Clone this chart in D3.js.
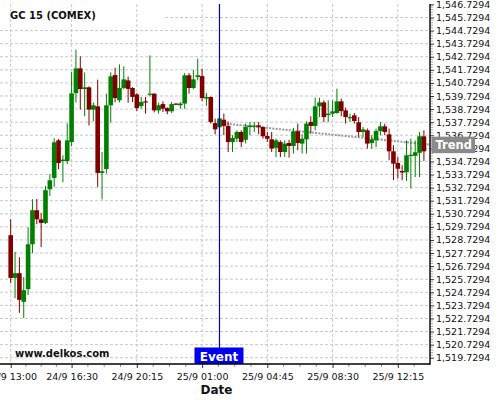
<!DOCTYPE html>
<html><head><meta charset="utf-8">
<script src="https://cdn.jsdelivr.net/npm/d3@7"></script>
<style>body{margin:0;background:#fff}svg{display:block}text{font-family:"DejaVu Sans",sans-serif}</style>
</head><body><svg id="c" width="500" height="400"></svg>
<script>
const openV = [
1529.09,1525.83,1526.19,1524.00,1524.97,1528.40,1531.00,1530.31,1530.03,1532.60,
1533.47,1536.34,1534.76,1534.76,1536.21,1539.95,1541.84,1540.26,1540.39,1538.69,
1538.94,1533.85,1534.15,1539.02,1541.33,1539.40,1540.34,1540.92,1540.34,1539.85,
1538.96,1539.32,1539.83,1539.91,1538.63,1539.11,1538.81,1538.56,1539.15,1539.02,
1539.15,1541.31,1540.34,1541.18,1541.25,1539.53,1539.65,1537.66,1537.34,1537.92,
1537.44,1536.21,1536.47,1536.98,1536.38,1537.36,1537.39,1537.49,1537.36,1536.67,
1536.42,1535.77,1536.21,1535.45,1536.14,1535.91,1537.03,1536.09,1536.42,1537.74,
1537.44,1538.94,1539.24,1538.27,1538.38,1538.43,1539.32,1538.63,1538.05,1538.25,
1537.72,1536.98,1537.11,1536.14,1536.34,1537.05,1537.41,1536.80,1535.50,1534.61,
1534.00,1533.90,1535.16,1535.16,1535.39,1536.65];
const highV = [
1530.31,1527.82,1527.41,1525.89,1529.70,1531.84,1531.86,1530.77,1532.85,1533.75,
1536.50,1536.44,1535.20,1537.64,1541.56,1543.27,1542.76,1541.53,1540.47,1539.24,
1540.98,1535.45,1539.91,1541.53,1541.89,1542.15,1541.99,1541.21,1540.41,1539.95,
1539.65,1539.65,1542.83,1539.93,1539.21,1539.32,1538.86,1539.27,1539.19,1539.27,
1541.48,1541.48,1541.73,1542.58,1541.82,1539.97,1539.70,1538.00,1538.33,1538.38,
1537.79,1536.73,1537.11,1537.11,1537.62,1537.74,1537.74,1537.74,1537.41,1536.98,
1536.98,1536.47,1536.34,1536.34,1536.38,1537.30,1537.62,1536.80,1537.79,1538.18,
1539.60,1539.60,1539.40,1539.40,1539.40,1540.29,1539.53,1538.84,1538.38,1538.43,
1538.12,1537.36,1537.24,1536.73,1537.24,1537.74,1537.62,1537.24,1535.96,1535.07,
1534.44,1536.34,1536.47,1536.34,1536.98,1537.11];
const lowV = [
1525.43,1524.28,1523.16,1522.76,1524.51,1527.72,1529.93,1528.18,1529.95,1532.09,
1532.78,1534.13,1533.14,1534.51,1535.91,1539.22,1538.69,1538.18,1537.47,1537.79,
1532.78,1531.82,1533.80,1537.69,1539.24,1539.24,1540.24,1539.21,1539.27,1538.58,
1538.76,1538.38,1539.70,1538.48,1538.38,1538.50,1538.33,1538.43,1539.02,1538.76,
1538.75,1539.91,1540.24,1540.92,1539.34,1538.98,1537.62,1536.80,1537.16,1536.75,
1535.45,1535.45,1536.21,1535.83,1536.11,1536.73,1536.98,1536.80,1536.47,1536.21,
1535.45,1535.05,1535.05,1535.07,1535.02,1535.33,1535.58,1535.33,1535.33,1536.85,
1537.11,1538.12,1537.74,1537.74,1538.12,1538.38,1538.18,1537.62,1537.74,1537.62,
1536.60,1536.60,1535.71,1535.71,1535.83,1536.73,1536.73,1534.82,1533.29,1533.42,
1533.29,1533.24,1532.66,1533.54,1533.54,1534.76];
const closeV = [
1525.83,1526.19,1524.15,1524.89,1528.40,1531.00,1530.31,1530.03,1532.53,1533.29,
1536.19,1534.61,1534.87,1536.34,1539.93,1541.84,1540.26,1540.39,1538.69,1539.02,
1533.85,1533.98,1539.02,1541.23,1539.57,1540.34,1541.00,1540.27,1539.66,1538.80,
1539.27,1539.24,1539.91,1538.63,1539.02,1538.76,1538.56,1539.11,1539.09,1539.15,
1541.31,1540.34,1541.00,1541.31,1539.57,1539.65,1537.74,1537.18,1538.02,1537.44,
1536.21,1536.52,1536.98,1536.21,1537.36,1537.47,1537.47,1537.37,1536.65,1536.46,
1535.71,1536.34,1535.45,1536.09,1535.91,1537.03,1536.14,1536.47,1537.62,1537.44,
1538.94,1539.24,1538.12,1538.38,1538.56,1539.32,1538.58,1538.12,1538.12,1537.82,
1536.98,1537.18,1536.09,1536.42,1537.05,1537.41,1536.98,1535.50,1534.56,1534.17,
1533.88,1535.20,1535.24,1535.43,1536.65,1535.50];

const xTickIndex = [0, 14, 29, 44, 59, 74, 89];
const xTickLabels = ["24/9 13:00","24/9 16:30","24/9 20:15","25/9 01:00","25/9 04:45","25/9 08:30","25/9 12:15"];
const yTickValues = d3.range(28).map(k => 1519.7294 + k);
const eventIndex = 48;
const trendIndex = [49.6, 96.4];
const trendValue = [1537.61, 1536.01];
const titleText = "GC 15 (COMEX)";

const svg = d3.select("#c");
const W = 430, T = 4, B = 364;
const x = d3.scaleLinear().domain([-2.46, 96.4]).range([0, W]);
const y = d3.scaleLinear().domain([1519.2494, 1546.7594]).range([B, T]);
const fmt = d3.format(",.4f");

// horizontal grid
const grid = svg.append("g");
grid.selectAll("line.h").data(yTickValues.slice(0, 27)).join("line")
  .attr("x1", 0).attr("x2", W).attr("y1", d => y(d)).attr("y2", d => y(d))
  .attr("stroke", "#c8c8c8").attr("stroke-dasharray", "3,2");
// white behind title
svg.append("rect").attr("x", 0).attr("y", 11).attr("width", 163).attr("height", 12).attr("fill", "#fff");
// vertical grid
svg.append("g").selectAll("line").data(xTickIndex).join("line")
  .attr("x1", d => x(d)).attr("x2", d => x(d)).attr("y1", T).attr("y2", B)
  .attr("stroke", "#c8c8c8").attr("stroke-dasharray", "3,2");

// trend line
svg.append("line")
  .attr("x1", x(trendIndex[0])).attr("y1", y(trendValue[0]))
  .attr("x2", x(trendIndex[1])).attr("y2", y(trendValue[1]))
  .attr("stroke", "#9a9a9a").attr("stroke-width", 2).attr("stroke-dasharray", "2,1.3");

// candles
const idx = d3.range(openV.length);
const cg = svg.append("g");
const col = i => closeV[i] >= openV[i] ? "#008000" : "#800000";
cg.selectAll("line").data(idx).join("line")
  .attr("x1", i => x(i)).attr("x2", i => x(i))
  .attr("y1", i => y(highV[i])).attr("y2", i => y(lowV[i]))
  .attr("stroke", col).attr("stroke-width", 1);
const bw = 4.6;
cg.selectAll("rect").data(idx).join("rect")
  .attr("x", i => x(i) - bw / 2).attr("width", bw)
  .attr("y", i => y(Math.max(openV[i], closeV[i])))
  .attr("height", i => Math.max(1.2, Math.abs(y(openV[i]) - y(closeV[i]))))
  .attr("fill", col);

// event line and label
const ex = x(eventIndex);
svg.append("line").attr("x1", ex).attr("x2", ex).attr("y1", T).attr("y2", 348)
  .attr("stroke", "#0000c0").attr("stroke-width", 1.2);
svg.append("rect").attr("x", ex - 25).attr("y", 347.5).attr("width", 49).attr("height", 16.5).attr("fill", "#0000f0");
svg.append("text").attr("x", ex - 0.5).attr("y", 360.5).attr("text-anchor", "middle")
  .attr("fill", "#fff").attr("font-weight", "bold").attr("font-size", "12px").text("Event");

// axes
const yAxis = svg.append("g").attr("transform", `translate(${W},0)`)
  .call(d3.axisRight(y).tickValues(yTickValues).tickFormat(fmt).tickSize(4).tickSizeOuter(0).tickPadding(2));
yAxis.select(".domain").remove();
yAxis.selectAll("text").attr("font-size", "9.5px").attr("fill", "#111").attr("font-family", "DejaVu Sans");
yAxis.selectAll("line").attr("stroke", "#333");
// minor y ticks
const minorY = [];
yTickValues.slice(0, 27).forEach(v => { for (let m = 1; m < 5; m++) minorY.push(v + m / 5); });
svg.append("g").selectAll("line").data(minorY).join("line")
  .attr("x1", W).attr("x2", W + 3).attr("y1", d => y(d)).attr("y2", d => y(d))
  .attr("stroke", "#999").attr("stroke-width", 0.8);
svg.append("line").attr("x1", W).attr("x2", W).attr("y1", T).attr("y2", B + 0.7)
  .attr("stroke", "#000").attr("stroke-width", 1.4);

const xAxis = svg.append("g").attr("transform", `translate(0,${B})`)
  .call(d3.axisBottom(x).tickValues(xTickIndex).tickFormat((d, i) => xTickLabels[i]).tickSize(4).tickSizeOuter(0).tickPadding(5));
xAxis.select(".domain").remove();
xAxis.selectAll("text").attr("font-size", "9.5px").attr("fill", "#111").attr("font-family", "DejaVu Sans");
xAxis.selectAll("line").attr("stroke", "#333");
const minorX = [];
xTickIndex.forEach((v, k) => {
  const nxt = k < xTickIndex.length - 1 ? xTickIndex[k + 1] : v + 15;
  for (let m = 1; m < 4; m++) minorX.push(v + (nxt - v) * m / 4);
});
svg.append("g").selectAll("line").data(minorX.filter(d => x(d) <= W)).join("line")
  .attr("x1", d => x(d)).attr("x2", d => x(d)).attr("y1", B).attr("y2", B + 3)
  .attr("stroke", "#777").attr("stroke-width", 0.8);
svg.append("line").attr("x1", 0).attr("x2", W).attr("y1", B).attr("y2", B)
  .attr("stroke", "#000").attr("stroke-width", 1.4);

// trend label
const ty = y(trendValue[1]);
svg.append("rect").attr("x", W + 1.5).attr("y", ty - 8).attr("width", 43.5).attr("height", 16.5).attr("fill", "#8a8a8a");
svg.append("text").attr("x", W + 5.5).attr("y", ty + 4.5).attr("fill", "#fff")
  .attr("font-weight", "bold").attr("font-size", "11.5px").text("Trend");

// texts
svg.append("text").attr("x", 10).attr("y", 19).attr("font-weight", "bold").attr("font-size", "10px").attr("fill", "#111").text(titleText);
svg.append("text").attr("x", 15).attr("y", 357.3).attr("font-weight", "bold").attr("font-size", "10px").attr("fill", "#111").text("www.delkos.com");
svg.append("text").attr("x", 216.5).attr("y", 393.5).attr("text-anchor", "middle").attr("font-weight", "bold").attr("font-size", "12px").attr("fill", "#111").text("Date");
</script></body></html>
